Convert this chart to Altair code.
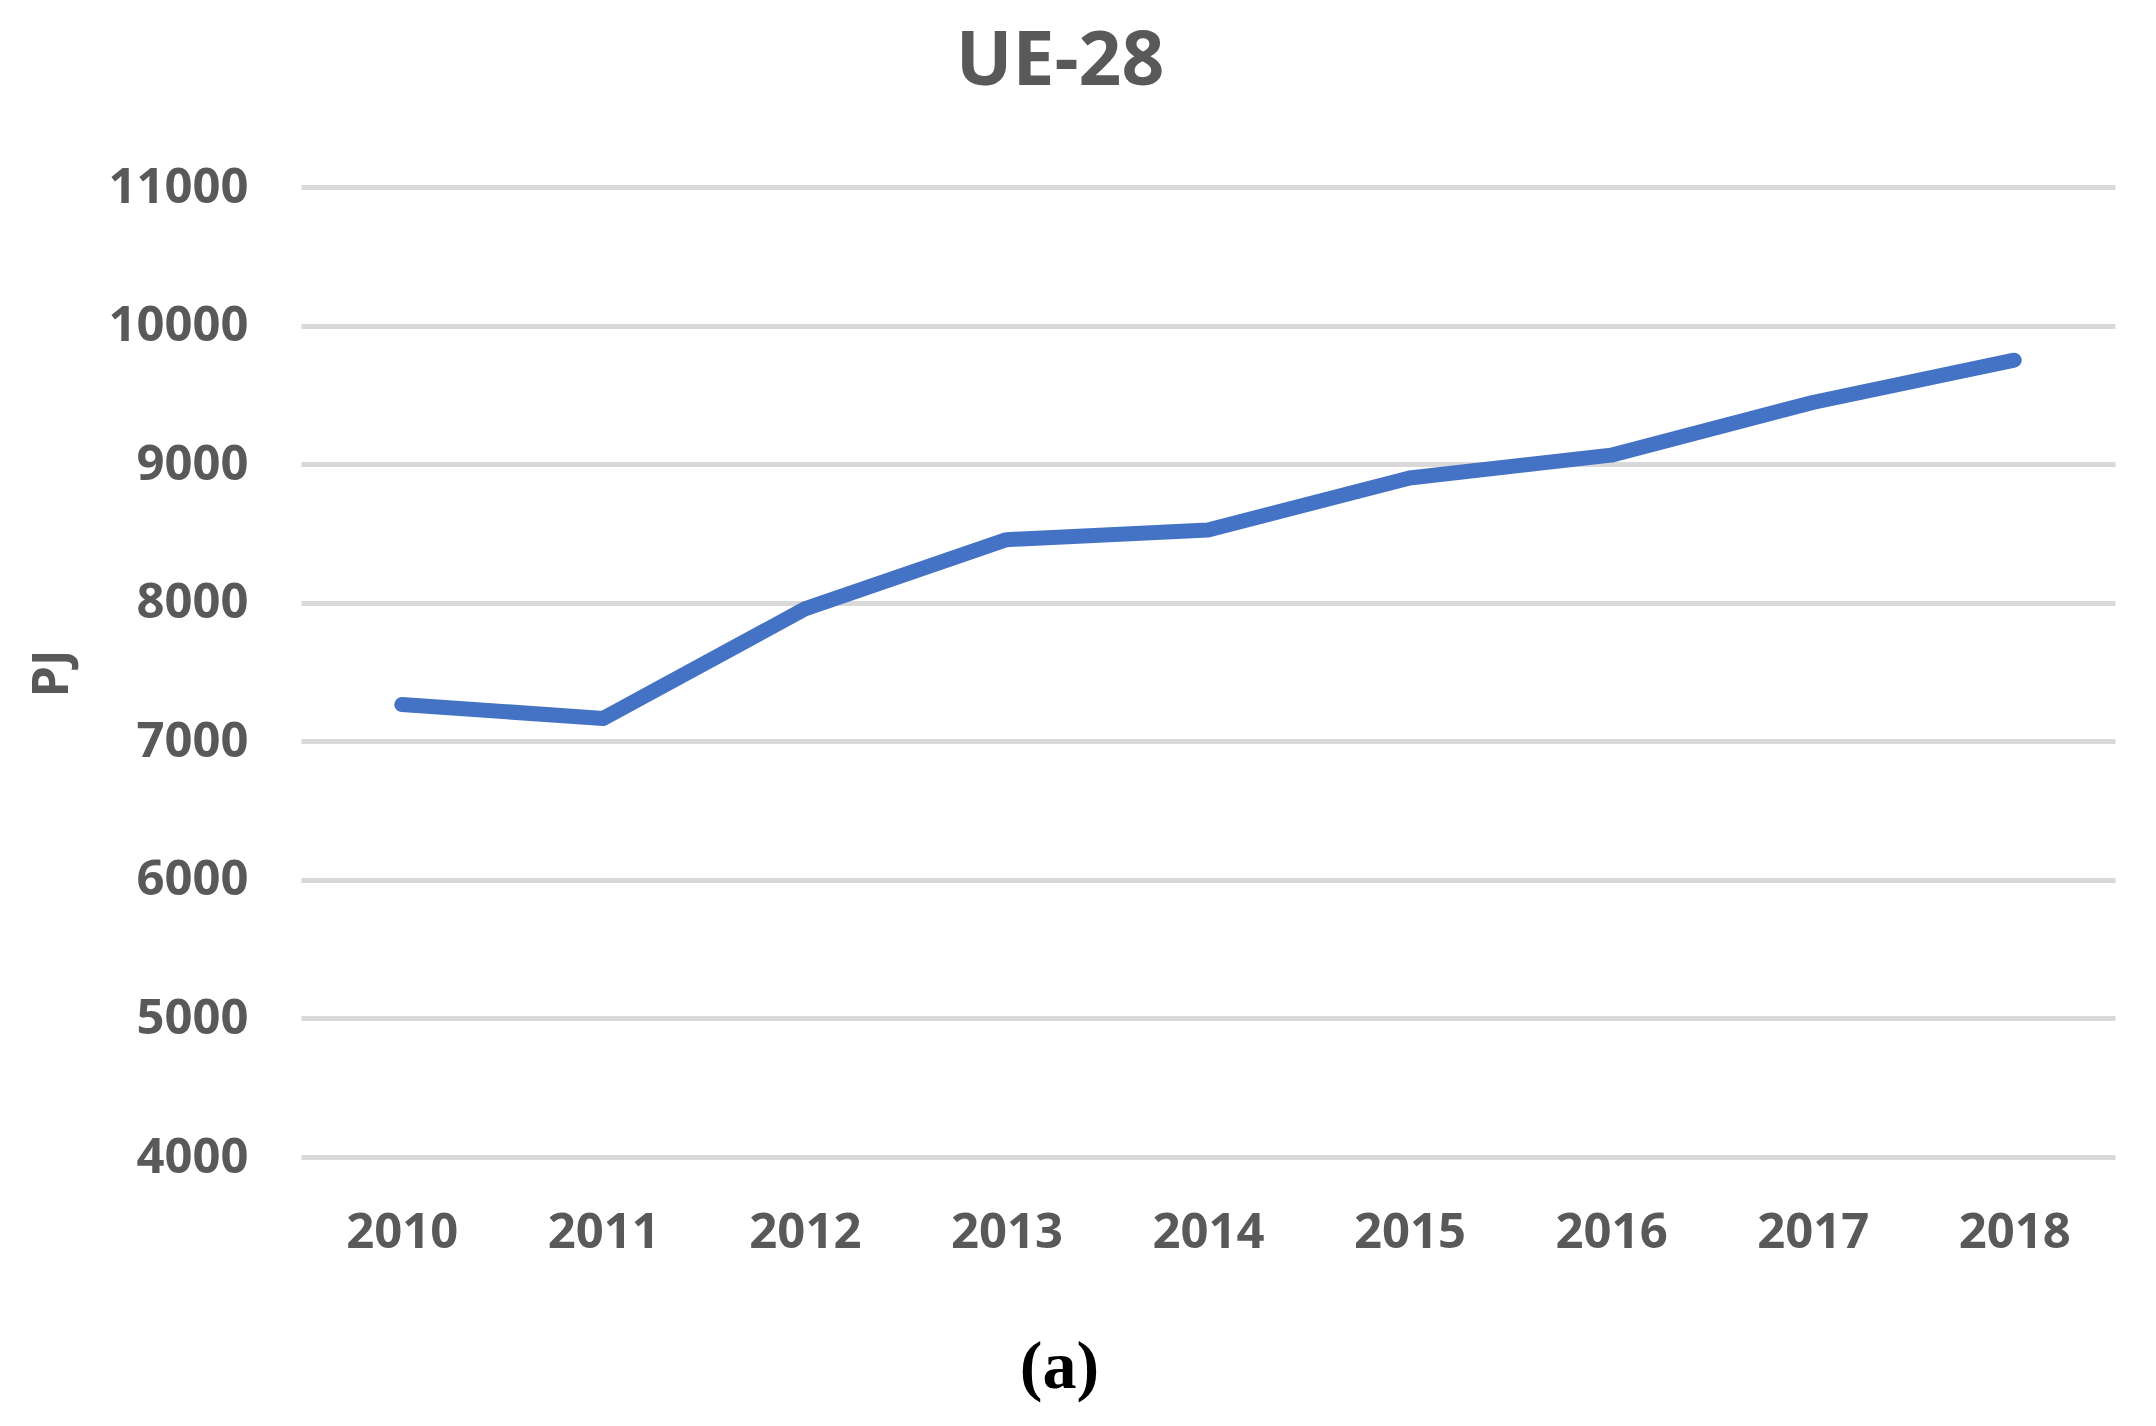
import altair as alt
import pandas as pd

years = ["2010", "2011", "2012", "2013", "2014", "2015", "2016", "2017", "2018"]
values = [7265, 7165, 7955, 8455, 8525, 8900, 9065, 9445, 9750]
y_ticks = [4000, 5000, 6000, 7000, 8000, 9000, 10000, 11000]

df = pd.DataFrame({"Year": years, "PJ": values})

TXT = "#595959"
FONT = "Open Sans"

chart = alt.Chart(df).mark_line(
    color="#4472C4", strokeWidth=15, strokeCap="round", strokeJoin="round"
).encode(
    x=alt.X("Year:O", sort=years,
            scale=alt.Scale(type="point", padding=0.5),
            axis=alt.Axis(title="(a)", titleFont="Liberation Serif", titleFontSize=68,
                          titleFontWeight="bold", titleColor="#000000",
                          titleX=758, titleY=210, titleAlign="center", titleBaseline="middle",
                          labelFont=FONT, labelFontSize=49, labelFontWeight="bold",
                          labelColor=TXT, labelPadding=51, labelAngle=0,
                          ticks=False, tickSize=0, domain=False, grid=False)),
    y=alt.Y("PJ:Q",
            scale=alt.Scale(domain=[4000, 11000], nice=False, zero=False),
            axis=alt.Axis(title="PJ", titleFont=FONT, titleFontSize=50, titleFontWeight="bold",
                          titleColor=TXT, titleX=-249, titleY=486, titleAngle=270,
                          titleAlign="center", titleBaseline="middle",
                          values=y_ticks, format="d",
                          labelFont=FONT, labelFontSize=49, labelFontWeight="bold",
                          labelColor=TXT, labelPadding=53,
                          ticks=False, tickSize=0, domain=False,
                          grid=True, gridColor="#d9d9d9", gridWidth=5)),
).properties(
    width=1814,
    height=970,
    title=alt.TitleParams(text="UE-28", font=FONT, fontSize=75, fontWeight="bold",
                          color=TXT, anchor="middle", dx=-148, offset=62),
    autosize=alt.AutoSizeParams(type="none"),
    padding={"left": 293, "top": 179, "right": 30, "bottom": 258},
).configure(
    background="white",
    view=alt.ViewConfig(stroke="transparent", strokeWidth=0),
)

chart.save("out.html", embed_options={"renderer": "svg", "actions": False})
